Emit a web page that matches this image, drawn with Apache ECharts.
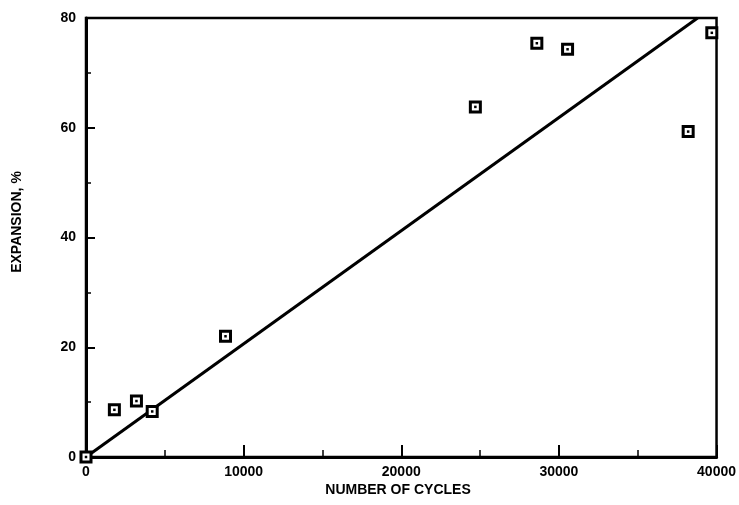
<!DOCTYPE html>
<html>
<head>
<meta charset="utf-8">
<script src="https://cdn.jsdelivr.net/npm/echarts@6/dist/echarts.min.js"></script>
<style>
  html, body { margin: 0; padding: 0; background: #fff; }
  #chart { width: 739px; height: 505px; }
</style>
</head>
<body>
<div id="chart"></div>
<script>
// Measured expansion against number of cycles
const cycles = [0, 1800, 3200, 4200, 8850, 24700, 28600, 30550, 38200, 39700];
const expansion = [0, 8.6, 10.2, 8.3, 22.0, 63.8, 75.4, 74.3, 59.3, 77.3];

// Fitted trend line endpoints
const fitCycles = [0, 38800];
const fitExpansion = [0, 80];

const xTicks = [0, 10000, 20000, 30000, 40000];
const yTicks = [0, 20, 40, 60, 80];

const xTitle = 'NUMBER OF CYCLES';
const yTitle = 'EXPANSION, %';

const points = cycles.map((c, i) => [c, expansion[i]]);
const fit = fitCycles.map((c, i) => [c, fitExpansion[i]]);

const FONT_FAMILY = '"Liberation Sans", Arial, Helvetica, sans-serif';
const labelFont = {
  color: '#000',
  fontFamily: FONT_FAMILY,
  fontWeight: 'bold',
  fontSize: 14
};

const chart = echarts.init(document.getElementById('chart'), null, { renderer: 'canvas' });
chart.setOption({
  animation: false,
  backgroundColor: '#fff',
  grid: {
    left: 86, right: 22, top: 18, bottom: 48,
    show: true,
    borderColor: '#000',
    borderWidth: 2.5,
    backgroundColor: 'transparent'
  },
  xAxis: {
    type: 'value',
    min: xTicks[0],
    max: xTicks[xTicks.length - 1],
    interval: xTicks[1] - xTicks[0],
    axisLine: { show: true, lineStyle: { color: '#000', width: 3 } },
    axisTick: { show: true, inside: true, length: 12, lineStyle: { color: '#000', width: 2 } },
    minorTick: { show: true, splitNumber: 2, length: 7, lineStyle: { color: '#000', width: 1.5 } },
    splitLine: { show: false },
    axisLabel: Object.assign({ margin: 8, formatter: v => String(v) }, labelFont)
  },
  yAxis: {
    type: 'value',
    min: yTicks[0],
    max: yTicks[yTicks.length - 1],
    interval: yTicks[1] - yTicks[0],
    axisLine: { show: true, lineStyle: { color: '#000', width: 3 } },
    axisTick: { show: true, inside: true, length: 9, lineStyle: { color: '#000', width: 2 } },
    minorTick: { show: true, splitNumber: 2, length: 5, lineStyle: { color: '#000', width: 1.5 } },
    splitLine: { show: false },
    axisLabel: Object.assign({ margin: 10, formatter: v => String(v) }, labelFont)
  },
  graphic: [
    {
      type: 'text',
      x: 398, y: 490,
      style: { text: xTitle, fill: '#000', font: 'bold 14px ' + FONT_FAMILY, align: 'center', verticalAlign: 'middle' }
    },
    {
      type: 'text',
      x: 17, y: 222,
      rotation: Math.PI / 2,
      style: { text: yTitle, fill: '#000', font: 'bold 14px ' + FONT_FAMILY, align: 'center', verticalAlign: 'middle' }
    }
  ],
  series: [
    {
      type: 'line',
      data: fit,
      showSymbol: false,
      symbol: 'none',
      lineStyle: { color: '#000', width: 3 },
      z: 2
    },
    {
      type: 'scatter',
      data: points,
      symbol: 'rect',
      symbolSize: 10,
      itemStyle: { color: '#fff', borderColor: '#000', borderWidth: 3, opacity: 1 },
      z: 3
    },
    {
      type: 'scatter',
      data: points,
      symbol: 'rect',
      symbolSize: 2.5,
      itemStyle: { color: '#000', opacity: 1 },
      z: 4
    }
  ]
});
</script>
</body>
</html>
